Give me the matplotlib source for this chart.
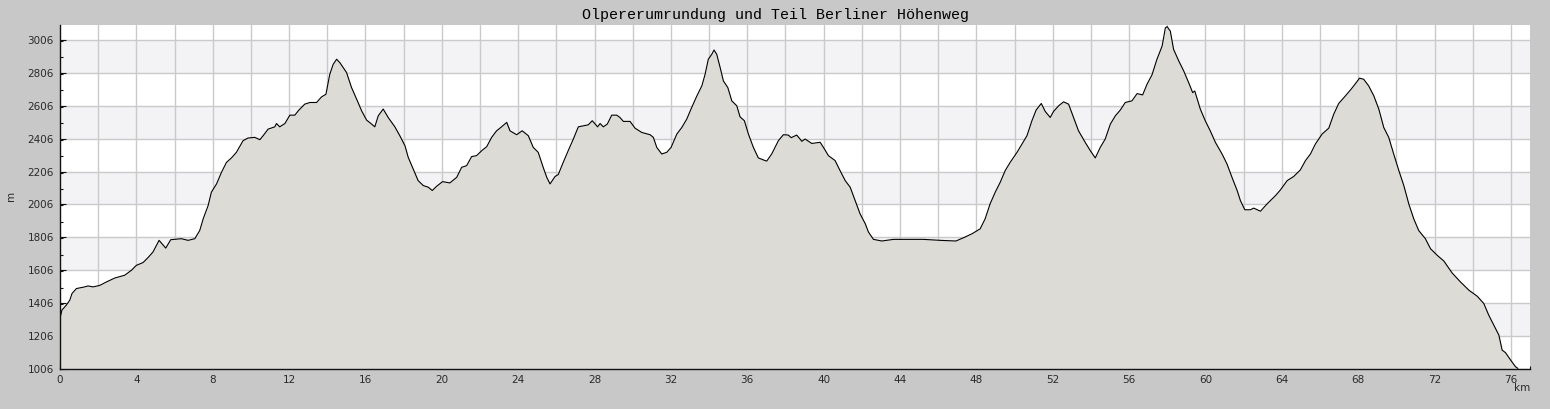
import matplotlib
matplotlib.use("Agg")
import matplotlib.pyplot as plt
from matplotlib.ticker import MultipleLocator, FuncFormatter

title = "Olpererumrundung und Teil Berliner Höhenweg"
x_label = "km"
y_label = "m"

km = [0.0, 0.04, 0.1, 0.33, 0.51, 0.63, 0.86, 1.29, 1.47, 1.73, 2.08, 2.43, 2.87, 3.39, 3.74,
      4.0, 4.35, 4.61, 4.87, 5.19, 5.54, 5.80, 6.36, 6.71, 7.06, 7.32, 7.50, 7.76, 7.93, 8.20,
      8.46, 8.72, 8.98, 9.24, 9.59, 9.85, 10.2, 10.47, 10.64, 10.9, 11.25, 11.34, 11.51, 11.78,
      12.04, 12.30, 12.50, 12.82, 13.09, 13.44, 13.70, 13.93, 14.13, 14.31, 14.49, 14.66, 15.01,
      15.27, 15.54, 15.80, 16.06, 16.32, 16.49, 16.67, 16.93, 17.19, 17.54, 17.80, 18.07, 18.24,
      18.50, 18.76, 19.03, 19.29, 19.50, 19.73, 20.04, 20.42, 20.78, 21.04, 21.30, 21.56, 21.82,
      22.09, 22.35, 22.61, 22.87, 23.13, 23.40, 23.57, 23.92, 24.21, 24.53, 24.79, 25.05, 25.31,
      25.50, 25.67, 25.93, 26.10, 26.36, 26.62, 26.89, 27.15, 27.41, 27.67, 27.88, 28.16, 28.29,
      28.46, 28.67, 28.90, 29.16, 29.33, 29.51, 29.86, 30.12, 30.47, 30.91, 31.08, 31.26, 31.52,
      31.78, 32.01, 32.31, 32.57, 32.83, 33.09, 33.36, 33.62, 33.79, 33.96, 34.14, 34.26, 34.40,
      34.58, 34.75, 34.98, 35.19, 35.45, 35.62, 35.85, 36.06, 36.32, 36.58, 36.93, 37.02, 37.28,
      37.63, 37.89, 38.15, 38.30, 38.59, 38.86, 39.03, 39.38, 39.82, 39.99, 40.25, 40.60, 40.86,
      41.13, 41.39, 41.65, 41.91, 42.18, 42.35, 42.61, 43.05, 43.66, 44.36, 45.23, 46.11, 46.93,
      47.33, 47.77, 48.20, 48.46, 48.72, 48.99, 49.25, 49.51, 49.77, 50.13, 50.39, 50.65, 50.91,
      51.13, 51.40, 51.61, 51.87, 52.04, 52.31, 52.57, 52.83, 53.09, 53.35, 53.70, 53.97, 54.23,
      54.49, 54.75, 55.02, 55.28, 55.54, 55.80, 56.15, 56.42, 56.71, 56.94, 57.20, 57.46, 57.73,
      57.90, 57.99, 58.16, 58.33, 58.60, 58.86, 59.12, 59.33, 59.44, 59.73, 59.99, 60.25, 60.52,
      60.87, 61.13, 61.39, 61.66, 61.83, 62.06, 62.35, 62.53, 62.88, 63.23, 63.67, 63.93, 64.28,
      64.62, 64.97, 65.24, 65.50, 65.76, 66.11, 66.46, 66.72, 66.98, 67.33, 67.63, 67.86, 68.07,
      68.29, 68.55, 68.82, 69.08, 69.34, 69.60, 69.86, 70.13, 70.39, 70.65, 70.91, 71.17, 71.52,
      71.79, 72.14, 72.49, 72.92, 73.36, 73.80, 74.24, 74.58, 74.84, 75.10, 75.37, 75.54, 75.72,
      75.98, 76.24, 76.36]

elev = [1325, 1333, 1364, 1394, 1424, 1465, 1495, 1505, 1511, 1505, 1514, 1535, 1559, 1576, 1606,
        1636, 1653, 1683, 1717, 1788, 1741, 1792, 1798, 1788, 1798, 1848, 1919, 2000, 2081, 2131,
        2202, 2262, 2289, 2323, 2394, 2410, 2414, 2400, 2424, 2464, 2478, 2498, 2478, 2498,
        2549, 2549, 2578, 2616, 2626, 2626, 2660, 2676, 2797, 2858, 2889, 2868, 2808,
        2717, 2646, 2575, 2519, 2495, 2478, 2545, 2586, 2535, 2478, 2424, 2363, 2293,
        2222, 2151, 2121, 2111, 2091, 2117, 2145, 2137, 2171, 2232, 2242, 2297, 2303,
        2333, 2357, 2414, 2454, 2478, 2505, 2454, 2430, 2454, 2424, 2353, 2323, 2232,
        2170, 2131, 2176, 2188, 2262, 2333, 2404, 2478, 2484, 2490, 2515, 2478, 2498,
        2478, 2495, 2549, 2549, 2535, 2511, 2511, 2470, 2444, 2430, 2414, 2353, 2313,
        2323, 2353, 2434, 2474, 2525, 2596, 2666, 2727, 2797, 2889, 2919, 2945, 2919,
        2838, 2757, 2717, 2636, 2606, 2539, 2515, 2434, 2353, 2289, 2273, 2270, 2313,
        2394, 2430, 2428, 2412, 2428, 2390, 2404, 2377, 2384, 2353, 2303, 2273, 2212,
        2151, 2111, 2030, 1949, 1889, 1838, 1794, 1784, 1794, 1794, 1794, 1788, 1784,
        1804, 1828, 1858, 1919, 2010, 2081, 2141, 2212, 2262, 2323, 2374, 2424, 2515,
        2580, 2620, 2571, 2535, 2571, 2606, 2630, 2616, 2535, 2454, 2384, 2333, 2289,
        2353, 2404, 2495, 2545, 2580, 2626, 2636, 2680, 2672, 2737, 2794, 2889, 2969,
        3080, 3087, 3060, 2949, 2879, 2818, 2747, 2686, 2696, 2586, 2515, 2454, 2384,
        2313, 2252, 2171, 2091, 2030, 1974, 1974, 1984, 1965, 2010, 2060, 2095, 2151,
        2176, 2216, 2273, 2313, 2374, 2434, 2470, 2555, 2620, 2666, 2707, 2741, 2774,
        2767, 2727, 2666, 2586, 2474, 2414, 2313, 2212, 2121, 2010, 1919, 1848, 1798,
        1737, 1697, 1662, 1590, 1535, 1485, 1448, 1404, 1333, 1273, 1212, 1121, 1105,
        1061, 1020, 1010]

y_ticks = [1006, 1206, 1406, 1606, 1806, 2006, 2206, 2406, 2606, 2806, 3006]
x_min, x_max = 0, 77.0
y_min, y_max = 1006, 3097

W, H = 1550, 409
fig = plt.figure(figsize=(W / 100, H / 100), dpi=100, facecolor="#c8c8c8")
ax = fig.add_axes([60 / W, (H - 369) / H, 1470 / W, 344 / H])
ax.set_facecolor("white")
ax.set_xlim(x_min, x_max)
ax.set_ylim(y_min, y_max)

# alternating bands
for i in range(len(y_ticks) - 1):
    if i % 2 == 1:
        ax.axhspan(y_ticks[i], y_ticks[i + 1], color="#f3f2f5", zorder=0, lw=0)

grid_c = "#cacaca"
for yv in y_ticks:
    ax.axhline(yv, color=grid_c, lw=1.0, zorder=0.5)
xv = 2
while xv < x_max:
    ax.axvline(xv, color=grid_c, lw=1.0, zorder=0.5)
    xv += 2

ax.fill_between(km, elev, y_min, color="#dcdbd6", lw=0, zorder=2)
ax.plot(km, elev, color="black", lw=0.8, zorder=3)

for s in ["top", "right"]:
    ax.spines[s].set_visible(False)
for s in ["left", "bottom"]:
    ax.spines[s].set_color("#111111")
    ax.spines[s].set_linewidth(1.0)
    ax.spines[s].set_zorder(4)

ax.set_yticks(y_ticks)
ax.yaxis.set_minor_locator(MultipleLocator(100))
ax.xaxis.set_major_locator(MultipleLocator(2))
ax.xaxis.set_minor_locator(MultipleLocator(1))
ax.xaxis.set_major_formatter(FuncFormatter(lambda v, p: f"{int(round(v))}" if int(round(v)) % 4 == 0 else ""))

ax.tick_params(which="major", direction="in", length=4, width=0.8, color="#111111",
               labelsize=7.5, labelcolor="#2a2a2a")
ax.tick_params(which="minor", direction="in", length=2.3, width=0.8, color="#111111")
ax.tick_params(axis="y", which="major", pad=4.5)
ax.tick_params(axis="x", which="major", pad=4)

fig.text(775 / W, 1 - 14.5 / H, title, ha="center", va="center",
         family="Liberation Mono", fontsize=10.8, color="black")
fig.text(1530 / W, 1 - 388 / H, x_label, ha="right", va="center", fontsize=7.5, color="#2a2a2a")
fig.text(11 / W, 1 - 195.5 / H, y_label, ha="center", va="center", rotation=90,
         fontsize=7.5, color="#2a2a2a")

fig.savefig("out.png", dpi=100, facecolor=fig.get_facecolor())
